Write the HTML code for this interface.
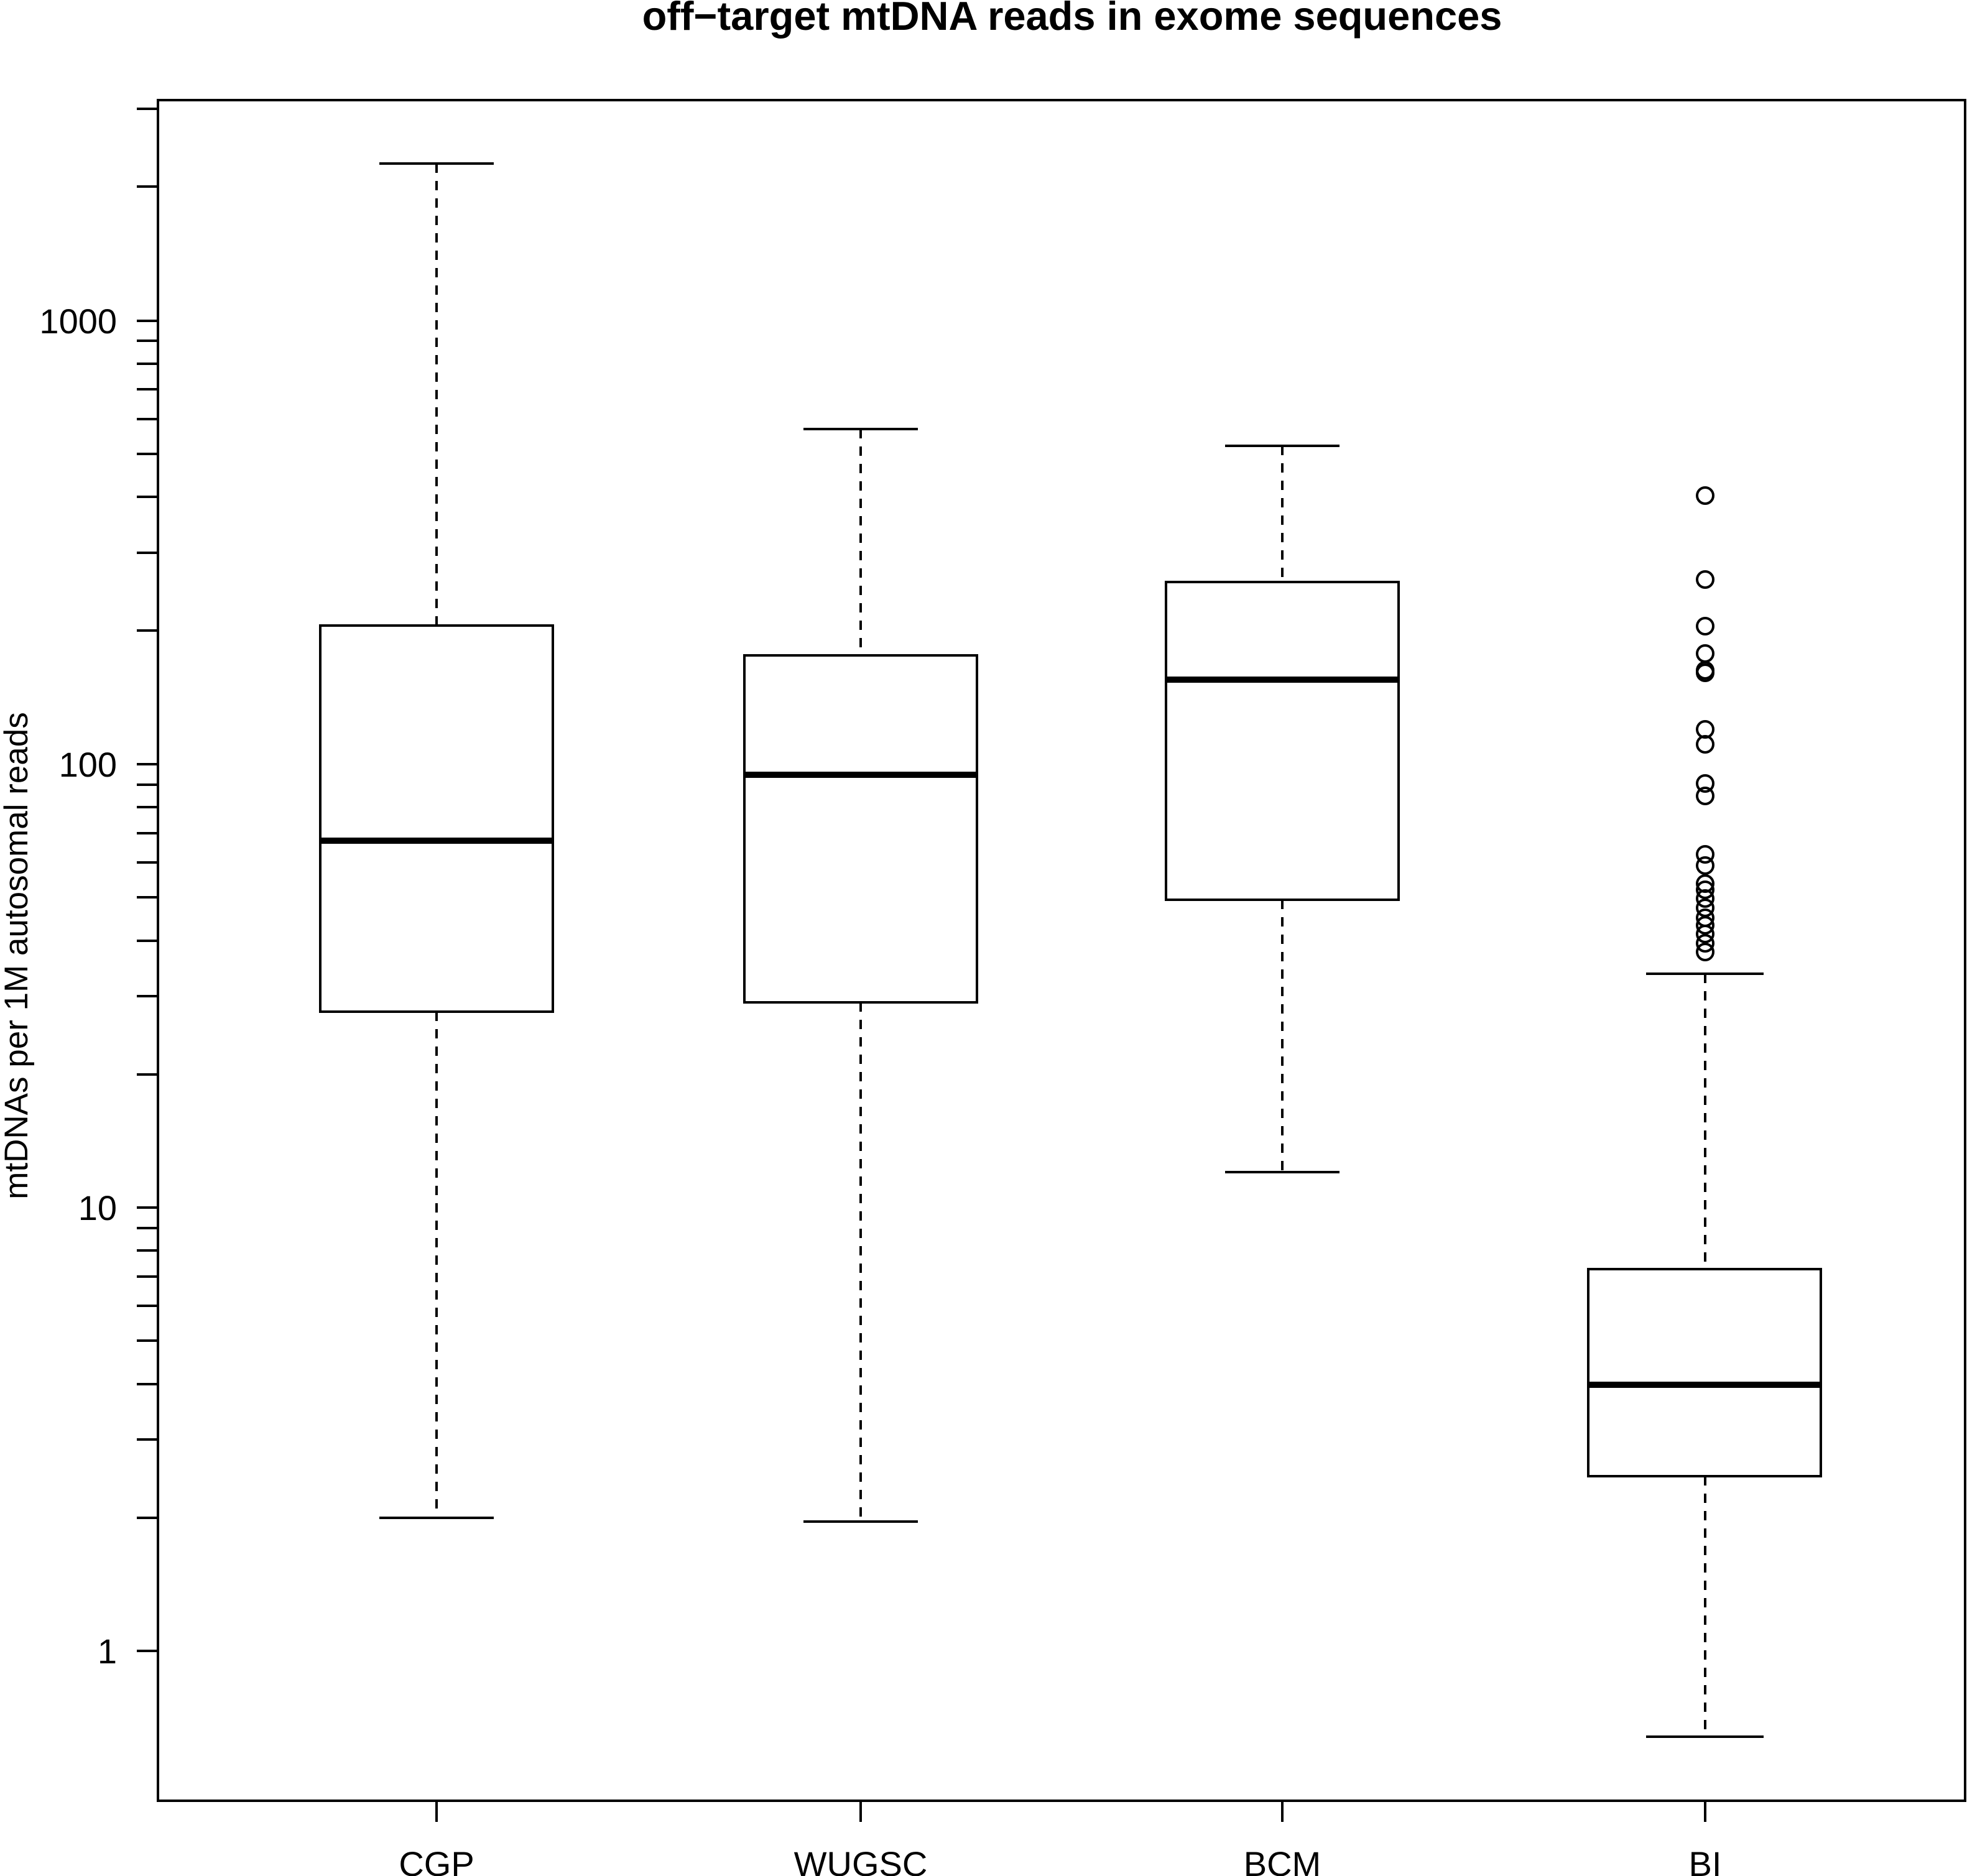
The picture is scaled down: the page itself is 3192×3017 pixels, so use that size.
<!DOCTYPE html>
<html><head><meta charset="utf-8"><style>html,body{margin:0;padding:0;background:#fff}svg{display:block}</style></head>
<body>
<svg width="3192" height="3017" viewBox="0 0 3192 3017" xmlns="http://www.w3.org/2000/svg" font-family="Liberation Sans, Arial, sans-serif">
<rect width="3192" height="3017" fill="#fff"/>
<text x="1724" y="48" font-size="65" font-weight="bold" text-anchor="middle">off−target mtDNA reads in exome sequences</text>
<rect x="254" y="161" width="2906" height="2735" fill="none" stroke="#000" stroke-width="4"/>
<g stroke="#000" stroke-width="4">
<line x1="220" y1="175" x2="254" y2="175"/><line x1="220" y1="300" x2="254" y2="300"/>
<line x1="220" y1="516" x2="254" y2="516"/><line x1="220" y1="548" x2="254" y2="548"/><line x1="220" y1="585" x2="254" y2="585"/><line x1="220" y1="626" x2="254" y2="626"/><line x1="220" y1="674" x2="254" y2="674"/><line x1="220" y1="730" x2="254" y2="730"/><line x1="220" y1="799" x2="254" y2="799"/><line x1="220" y1="889" x2="254" y2="889"/><line x1="220" y1="1014" x2="254" y2="1014"/>
<line x1="220" y1="1229" x2="254" y2="1229"/><line x1="220" y1="1262" x2="254" y2="1262"/><line x1="220" y1="1298" x2="254" y2="1298"/><line x1="220" y1="1340" x2="254" y2="1340"/><line x1="220" y1="1387" x2="254" y2="1387"/><line x1="220" y1="1443" x2="254" y2="1443"/><line x1="220" y1="1513" x2="254" y2="1513"/><line x1="220" y1="1602" x2="254" y2="1602"/><line x1="220" y1="1728" x2="254" y2="1728"/>
<line x1="220" y1="1942" x2="254" y2="1942"/><line x1="220" y1="1975" x2="254" y2="1975"/><line x1="220" y1="2011" x2="254" y2="2011"/><line x1="220" y1="2053" x2="254" y2="2053"/><line x1="220" y1="2100" x2="254" y2="2100"/><line x1="220" y1="2156" x2="254" y2="2156"/><line x1="220" y1="2226" x2="254" y2="2226"/><line x1="220" y1="2315" x2="254" y2="2315"/><line x1="220" y1="2441" x2="254" y2="2441"/>
<line x1="220" y1="2655" x2="254" y2="2655"/>
<line x1="702" y1="2896" x2="702" y2="2930"/><line x1="1384" y1="2896" x2="1384" y2="2930"/><line x1="2062" y1="2896" x2="2062" y2="2930"/><line x1="2742" y1="2896" x2="2742" y2="2930"/>
</g>
<g font-size="56" text-anchor="end">
<text x="188" y="536">1000</text><text x="188" y="1249">100</text><text x="188" y="1962">10</text><text x="188" y="2675">1</text>
</g>
<g font-size="56" text-anchor="middle">
<text x="702" y="3017">CGP</text><text x="1384" y="3017">WUGSC</text><text x="2062" y="3017">BCM</text><text x="2742" y="3017">BI</text>
</g>
<text transform="translate(44,1537) rotate(-90)" font-size="53" text-anchor="middle">mtDNAs per 1M autosomal reads</text>
<g stroke="#000" stroke-width="4" fill="none">
<line x1="702" y1="263" x2="702" y2="1006" stroke-dasharray="15 13"/><line x1="702" y1="1627" x2="702" y2="2441" stroke-dasharray="15 13"/>
<line x1="610" y1="263" x2="794" y2="263"/><line x1="610" y1="2441" x2="794" y2="2441"/>
<rect x="515" y="1006" width="374" height="621"/>
<line x1="515" y1="1352" x2="889" y2="1352" stroke-width="10"/>
<line x1="1384" y1="690" x2="1384" y2="1054" stroke-dasharray="15 13"/><line x1="1384" y1="1612" x2="1384" y2="2447" stroke-dasharray="15 13"/>
<line x1="1292" y1="690" x2="1476" y2="690"/><line x1="1292" y1="2447" x2="1476" y2="2447"/>
<rect x="1197" y="1054" width="374" height="558"/>
<line x1="1197" y1="1246" x2="1571" y2="1246" stroke-width="10"/>
<line x1="2062" y1="717" x2="2062" y2="936" stroke-dasharray="15 13"/><line x1="2062" y1="1447" x2="2062" y2="1885" stroke-dasharray="15 13"/>
<line x1="1970" y1="717" x2="2154" y2="717"/><line x1="1970" y1="1885" x2="2154" y2="1885"/>
<rect x="1875" y="936" width="374" height="511"/>
<line x1="1875" y1="1093" x2="2249" y2="1093" stroke-width="10"/>
<line x1="2742" y1="1566" x2="2742" y2="2041" stroke-dasharray="15 13"/><line x1="2742" y1="2374" x2="2742" y2="2793" stroke-dasharray="15 13"/>
<line x1="2647" y1="1566" x2="2836" y2="1566"/><line x1="2647" y1="2793" x2="2836" y2="2793"/>
<rect x="2554" y="2041" width="374" height="333"/>
<line x1="2554" y1="2227" x2="2928" y2="2227" stroke-width="10"/>
<g stroke-width="4">
<circle cx="2742" cy="797" r="13"/><circle cx="2742" cy="932" r="13"/><circle cx="2742" cy="1007" r="13"/><circle cx="2742" cy="1051" r="13"/><circle cx="2742" cy="1078" r="13"/><circle cx="2742" cy="1082" r="13"/><circle cx="2742" cy="1173" r="13"/><circle cx="2742" cy="1197" r="13"/><circle cx="2742" cy="1260" r="13"/><circle cx="2742" cy="1280" r="13"/><circle cx="2742" cy="1374" r="13"/><circle cx="2742" cy="1392" r="13"/><circle cx="2742" cy="1421" r="13"/><circle cx="2742" cy="1431" r="13"/><circle cx="2742" cy="1445" r="13"/><circle cx="2742" cy="1460" r="13"/><circle cx="2742" cy="1476" r="13"/><circle cx="2742" cy="1488" r="13"/><circle cx="2742" cy="1502" r="13"/><circle cx="2742" cy="1517" r="13"/><circle cx="2742" cy="1531" r="13"/>
</g>
</g>
</svg>
</body></html>
